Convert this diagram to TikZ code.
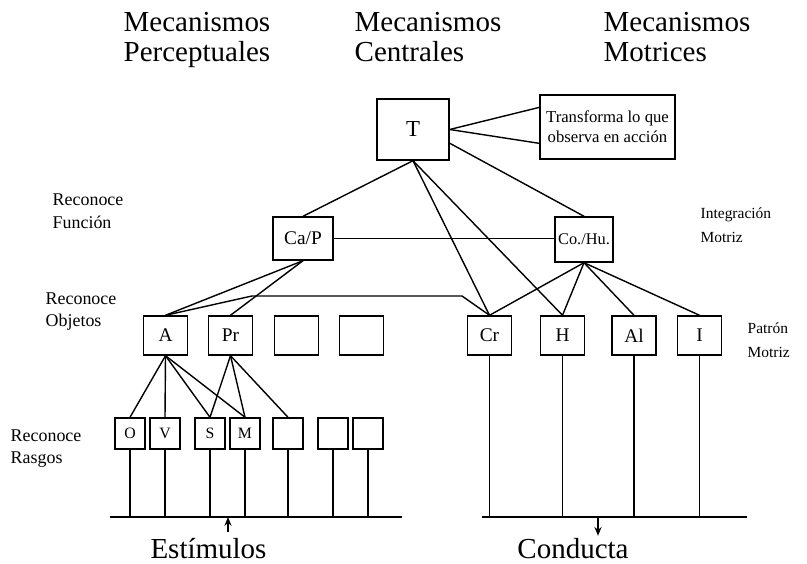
\documentclass[tikz,border=0pt]{standalone}
\usepackage{fontspec}
\setmainfont{Liberation Serif}
\usetikzlibrary{arrows.meta,calc}

\begin{document}
\begin{tikzpicture}[thick]

    \tikzset{box/.style={%
      draw,%
      rectangle,%
      inner sep=0pt,%
      font=\fontsize{11}{13}\selectfont}%
    };
    \tikzset{objbox/.style={%
      box,%
      minimum width=0.88cm,%
      minimum height=0.78cm}%
    };
    \tikzset{featbox/.style={box, minimum width=0.6cm, minimum height=0.62cm, font=\fontsize{9}{11}\selectfont}};

    \tikzset{head/.style={anchor=north west, align=left, inner sep=0pt, font=\fontsize{16.5}{17.1}\selectfont}};
    \tikzset{level/.style={anchor=west, align=left, inner sep=0pt, font=\fontsize{10.2}{13}\selectfont}};
    \tikzset{motor/.style={level, font=\fontsize{8.8}{13.5}\selectfont}};
    \tikzset{io/.style={inner sep=0pt, font=\fontsize{16.5}{18}\selectfont}};

    \useasboundingbox (0, 0) rectangle (16.14, 11.26);

    %%%%%%%%%%%%
    % headings %
    %%%%%%%%%%%%
    \node[head] (perc) at (2.46, 11.02) {Mecanismos\\Perceptuales};
    \node[head] (cent) at (7.08, 11.02) {Mecanismos\\Centrales};
    \node[head] (motr) at (12.06, 11.02) {Mecanismos\\Motrices};

    \node[level] (fun) at (1.04, 7.03) {Reconoce\\Función};
    \node[level] (obj) at (0.90, 5.03) {Reconoce\\Objetos};
    \node[level] (ras) at (0.20, 2.29) {Reconoce\\Rasgos};
    \node[motor] (integ) at (14.00, 6.76) {Integración\\Motriz};
    \node[motor] (patron) at (14.94, 4.46) {Patrón\\Motriz};

    %%%%%%%%%%
    % blocks %
    %%%%%%%%%%
    \node[box, minimum width=1.44cm, minimum height=1.22cm, font=\fontsize{13}{15}\selectfont] (T) at (8.26, 8.67) {T};
    \node[box, minimum width=2.7cm, minimum height=1.28cm, align=center, font=\fontsize{9.5}{11.4}\selectfont] (trans) at (12.15, 8.72) {Transforma lo que\\observa en acción};

    \node[box, minimum width=1.2cm, minimum height=0.86cm] (cap) at (6.06, 6.49) {Ca/P};
    \node[box, minimum width=1.16cm, minimum height=0.9cm, font=\fontsize{9.3}{11}\selectfont] (cohu) at (11.68, 6.47) {Co./Hu.};

    \node[objbox] (A) at (3.31, 4.55) {A};
    \node[objbox] (Pr) at (4.61, 4.55) {Pr};
    \node[objbox] (ob1) at (5.93, 4.55) {};
    \node[objbox] (ob2) at (7.23, 4.55) {};
    \node[objbox] (Cr) at (9.79, 4.55) {Cr};
    \node[objbox] (H) at (11.25, 4.55) {H};
    \node[objbox] (Al) at (12.68, 4.55) {Al};
    \node[objbox] (I) at (13.99, 4.55) {I};

    \node[featbox] (O) at (2.60, 2.59) {O};
    \node[featbox] (V) at (3.30, 2.59) {V};
    \node[featbox] (S) at (4.20, 2.59) {S};
    \node[featbox] (M) at (4.90, 2.59) {M};
    \node[featbox] (rs1) at (5.76, 2.59) {};
    \node[featbox] (rs2) at (6.66, 2.59) {};
    \node[featbox] (rs3) at (7.36, 2.59) {};

    \node[io] (estim) at (4.17, 0.29) {Estímulos};
    \node[io] (cond) at (11.46, 0.29) {Conducta};

    \coordinate (k1) at (5.04, 5.34);
    \coordinate (k2) at (9.24, 5.34);
    \coordinate (stl) at (2.20, 0.92);
    \coordinate (str) at (8.04, 0.92);
    \coordinate (stin) at (4.56, 0.92);
    \coordinate (cdl) at (9.64, 0.92);
    \coordinate (cdr) at (14.94, 0.92);
    \coordinate (cdout) at (11.96, 0.92);

    %%%%%%%%%
    % links %
    %%%%%%%%%
    \draw (T.east) -- ($(trans.north west)!0.2!(trans.south west)$);
    \draw (T.east) -- ($(trans.north west)!0.75!(trans.south west)$);
    \draw ($(T.north east)!0.72!(T.south east)$) -- (cohu.north);
    \draw (T.south) -- (cap.north);
    \draw (T.south) -- (Cr.north);
    \draw (T.south) -- (H.north);

    \draw (cap.east) -- (cap.east -| cohu.west);
    \draw (cap.south) -- (A.north);
    \draw (cap.south) -- (Pr.north);
    \draw (A.north) -- (k1) -- (k2) -- (Cr.north);

    \draw (cohu.south) -- (Cr.north);
    \draw (cohu.south) -- (H.north);
    \draw (cohu.south) -- (Al.north);
    \draw (cohu.south) -- (I.north);

    \draw (A.south) -- (O.north);
    \draw (A.south) -- (V.north);
    \draw (A.south) -- (S.north);
    \draw (A.south) -- (M.north);
    \draw (Pr.south) -- (S.north);
    \draw (Pr.south) -- (M.north);
    \draw (Pr.south) -- (rs1.north);

    %%%%%%%%%%%%%%%%%%%%
    % stimuli / output %
    %%%%%%%%%%%%%%%%%%%%
    \draw (O.south) -- (O.south |- stl);
    \draw (V.south) -- (V.south |- stl);
    \draw (S.south) -- (S.south |- stl);
    \draw (M.south) -- (M.south |- stl);
    \draw (rs1.south) -- (rs1.south |- stl);
    \draw (rs2.south) -- (rs2.south |- stl);
    \draw (rs3.south) -- (rs3.south |- stl);
    \draw (stl) -- (str);

    \draw (Cr.south) -- (Cr.south |- cdl);
    \draw (H.south) -- (H.south |- cdl);
    \draw (Al.south) -- (Al.south |- cdl);
    \draw (I.south) -- (I.south |- cdl);
    \draw (cdl) -- (cdr);

    \draw [-{Stealth[length=5pt,width=4pt]}] ([yshift=3pt]estim.north -| stin) -- (stin);
    \draw [-{Stealth[length=5pt,width=4pt]}] (cdout) -- ([yshift=1pt]cond.north -| cdout);

  \end{tikzpicture}
\end{document}
